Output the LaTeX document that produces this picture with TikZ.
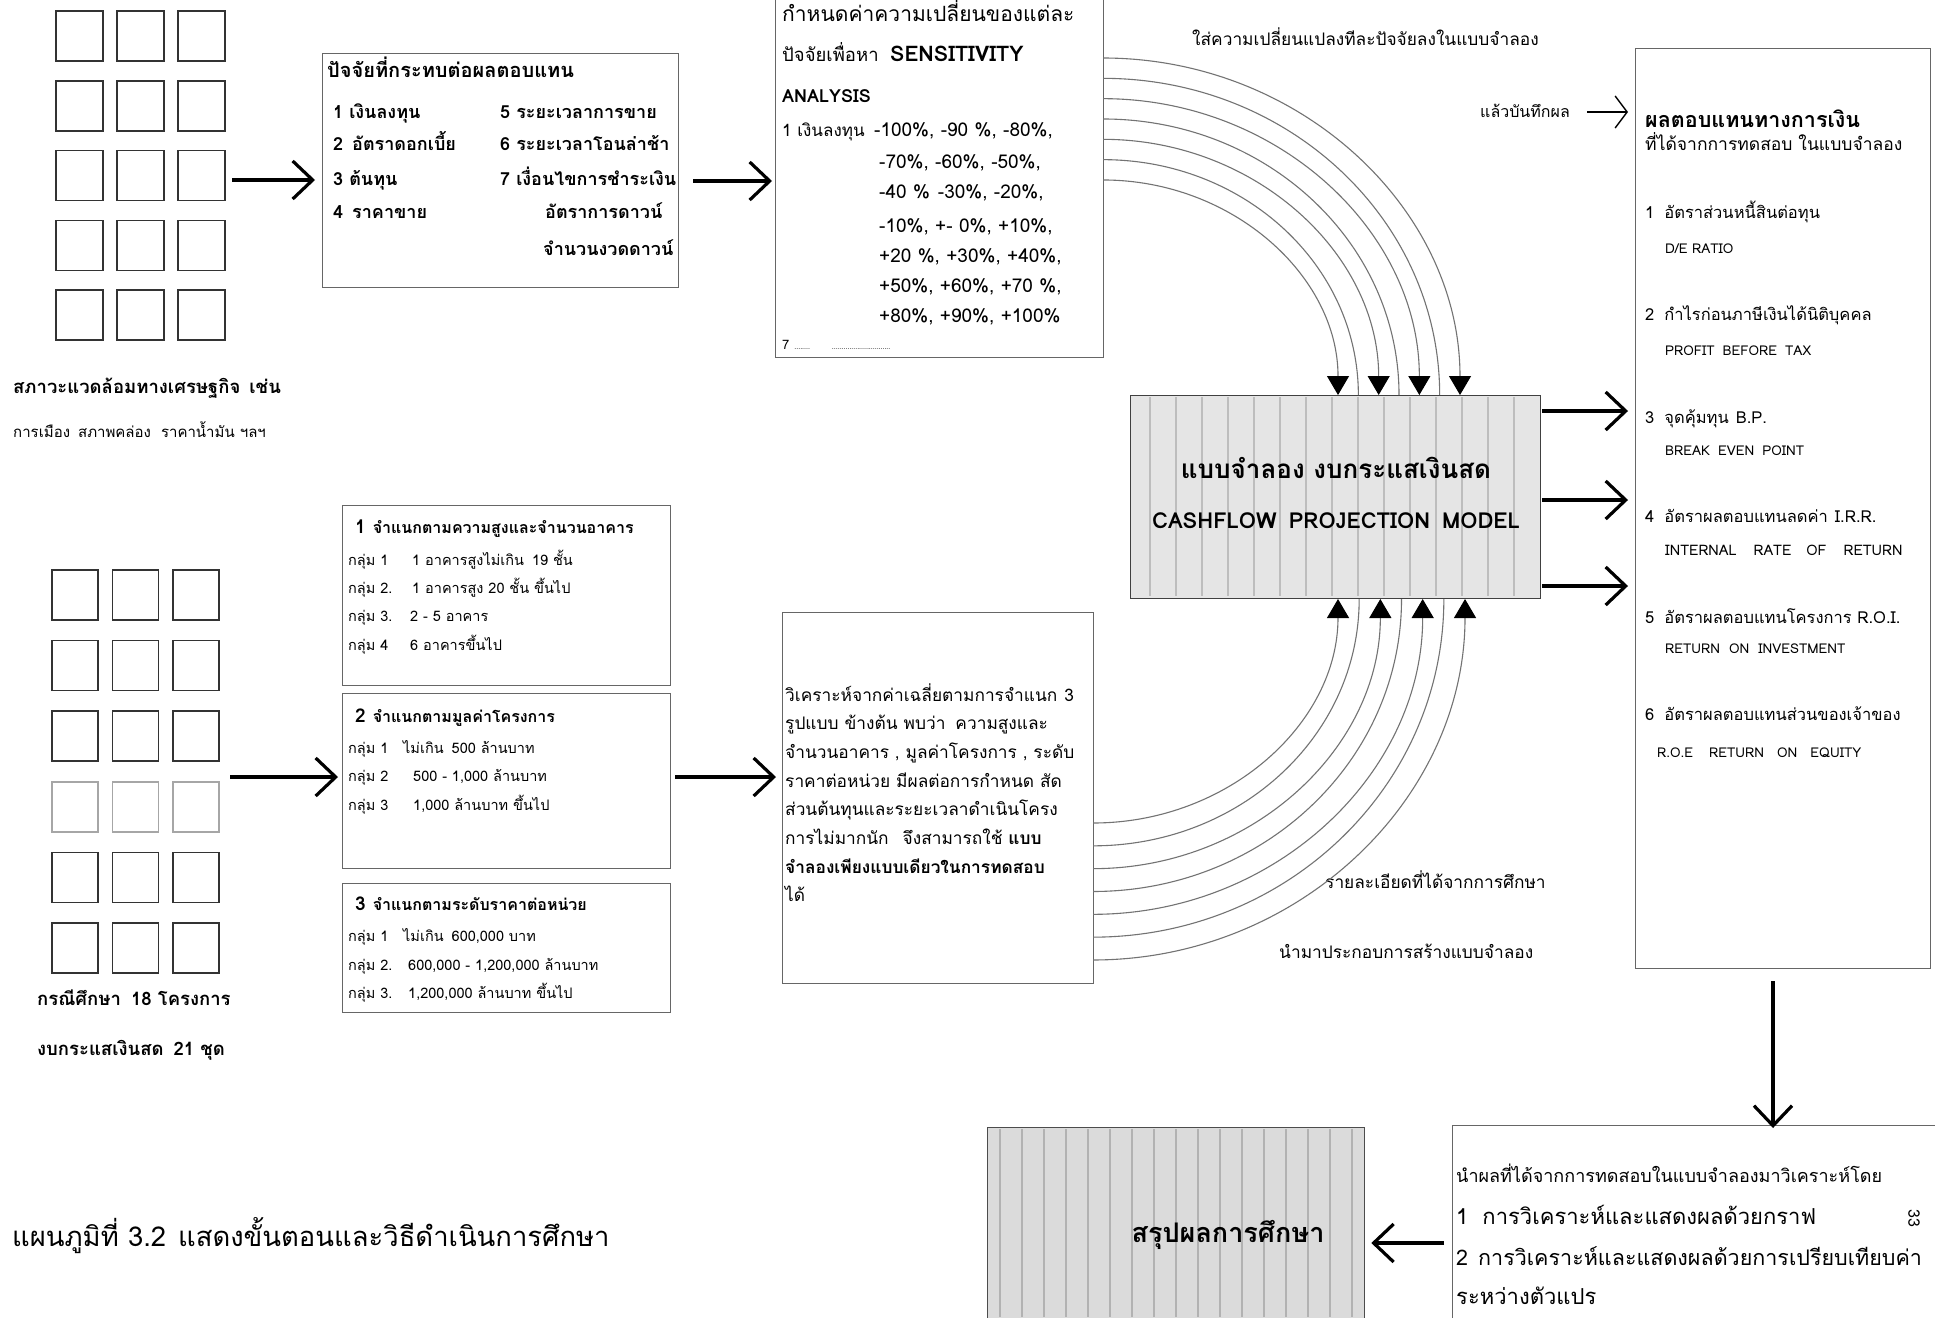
\documentclass[tikz,border=0pt]{standalone}
\usepackage{fontspec}
\setmainfont[Script=Thai]{Loma}
\usetikzlibrary{arrows.meta,calc}
\newcommand\fsz[1]{\fontsize{#1}{#1}\selectfont}
\begin{document}
\begin{tikzpicture}[x=1pt,y=-1pt,
  frame/.style={draw=black!60, line width=1.3pt, inner sep=0pt, anchor=north west},
  sq/.style={draw=black!80, line width=1.5pt, inner sep=0pt, minimum width=47pt, minimum height=50pt},
  t/.style={anchor=base west, inner sep=0pt},
  tc/.style={anchor=base, inner sep=0pt},
  bigarr/.style={line width=3.6pt, -{Straight Barb[length=20pt,width=38pt,line width=3.2pt]}},
  thinarr/.style={line width=1.4pt, -{Straight Barb[length=12pt,width=32pt,line width=1.4pt]}},
  arcline/.style={draw=black!55, line width=1.1pt},
  arcarr/.style={arcline, -{Triangle[length=19pt,width=22pt,color=black]}}
]
\useasboundingbox (0,0) rectangle (1935,1317);
\fill[white] (0,0) rectangle (1935,1317);

% ---------- grids ----------
\foreach \r in {0,...,4}\foreach \c in {0,...,2}
  \node[sq] (qa\r\c) at ({79.5+61*\c},{36+69.75*\r}) {};
\foreach \r in {0,...,5}\foreach \c in {0,...,2}{
  \ifnum\r=3 \def\sqc{black!35}\else\def\sqc{black!80}\fi
  \node[sq, minimum width=46pt, draw=\sqc] (qb\r\c) at ({75+60.5*\c},{595+70.6*\r}) {};}

\node[t] (envA) at (13,393) {\fsz{18.5}\bfseries สภาวะแวดล้อมทางเศรษฐกิจ\hspace{9pt}เช่น};
\node[t] (envB) at (13,437) {\fsz{15}การเมือง\hspace{8pt}สภาพคล่อง\hspace{10pt}ราคาน้ำมัน ฯลฯ};
\node[t] (caseA) at (37,1005) {\fsz{18.5}\bfseries กรณีศึกษา\hspace{10pt}18 โครงการ};
\node[t] (caseB) at (37,1055) {\fsz{18.5}\bfseries งบกระแสเงินสด\hspace{10pt}21 ชุด};

% ---------- boxes ----------
\node[frame, minimum width=356pt, minimum height=234pt] (fac) at (322,53) {};
\node[frame, minimum width=328pt, minimum height=360pt] (sens) at (775,-3) {};
\node[frame, minimum width=295pt, minimum height=920pt] (res) at (1635,48) {};
\node[frame, draw=black!75, fill=black!10, minimum width=410pt, minimum height=203pt] (model) at (1130,395) {};
\foreach \x in {1150,1176,...,1530} \draw[black!26, line width=1.6pt] (\x,397) -- (\x,596);
\node[frame, minimum width=328pt, minimum height=180pt] (grpA) at (342,505) {};
\node[frame, minimum width=328pt, minimum height=175pt] (grpB) at (342,693) {};
\node[frame, minimum width=328pt, minimum height=129pt] (grpC) at (342,883) {};
\node[frame, minimum width=311pt, minimum height=371pt] (mid) at (782,612) {};
\node[frame, draw=black!70, fill=black!14, minimum width=377pt, minimum height=200pt] (summ) at (987,1127) {};
\foreach \x in {1000,1022,...,1360} \draw[black!30, line width=1.4pt] (\x,1129) -- (\x,1317);
\node[frame, minimum width=490pt, minimum height=200pt] (anal) at (1452,1125) {};

% ---------- factor box text ----------
\node[t] (f0) at (327,77) {\fsz{20}\bfseries ปัจจัยที่กระทบต่อผลตอบแทน};
\begin{scope}[every node/.style={t}, font=\fsz{18}\bfseries]
\node (f1) at (333,118) {1 เงินลงทุน};
\node (f2) at (333,150) {2\hspace{9pt}อัตราดอกเบี้ย};
\node (f3) at (333,185) {3 ต้นทุน};
\node (f4) at (333,218) {4\hspace{9pt}ราคาขาย};
\node (f5) at (500,118) {5 ระยะเวลาการขาย};
\node (f6) at (500,150) {6 ระยะเวลาโอนล่าช้า};
\node (f7) at (500,185) {7 เงื่อนไขการชำระเงิน};
\node (f8) at (545,218) {อัตราการดาวน์};
\node (f9) at (543,255) {จำนวนงวดดาวน์};
\end{scope}

% ---------- sensitivity box text ----------
\node[t] (s0) at (782,21) {\fsz{21}กำหนดค่าความเปลี่ยนของแต่ละ};
\node[t] (s1) at (782,61) {\fsz{18.5}ปัจจัยเพื่อหา};
\node[t] (s2) at (890,61) {\fsz{21.5}\bfseries SENSITIVITY};
\node[t] (s3) at (782,102) {\fsz{18}\bfseries ANALYSIS};
\node[t] (s4) at (782,136) {\fsz{17}1 เงินลงทุน};
\begin{scope}[every node/.style={t}, font=\fsz{19}]
\node (p1) at (874,136) {-100\%, -90 \%, -80\%,};
\node (p2) at (879,168) {-70\%, -60\%, -50\%,};
\node (p3) at (879,198) {-40 \%\hspace{8pt}-30\%, -20\%,};
\node (p4) at (879,232) {-10\%, +- 0\%, +10\%,};
\node (p5) at (879,262) {+20 \%, +30\%, +40\%,};
\node (p6) at (879,292) {+50\%, +60\%, +70 \%,};
\node (p7) at (879,322) {+80\%, +90\%, +100\%};
\end{scope}
\node[t] (s5) at (782,349) {\fsz{13}7\hspace{5pt}{\fsz{7}........}\hspace{22pt}{\fsz{7}..............................}};

% ---------- result box text ----------
\node[t] (r0) at (1645,127) {\fsz{21.5}\bfseries ผลตอบแทนทางการเงิน};
\node[t] (r1) at (1645,150) {\fsz{17.5}ที่ได้จากการทดสอบ ในแบบจำลอง};
\begin{scope}[every node/.style={t}, font=\fsz{16.5}]
\node (r2) at (1645,218) {1\hspace{10pt}อัตราส่วนหนี้สินต่อทุน};
\node (r4) at (1645,320) {2\hspace{10pt}กำไรก่อนภาษีเงินได้นิติบุคคล};
\node (r6) at (1645,423) {3\hspace{10pt}จุดคุ้มทุน\hspace{7pt}B.P.};
\node (r8) at (1645,522) {4\hspace{10pt}อัตราผลตอบแทนลดค่า\hspace{7pt}I.R.R.};
\node (r10) at (1645,623) {5\hspace{10pt}อัตราผลตอบแทนโครงการ R.O.I.};
\node (r12) at (1645,720) {6\hspace{10pt}อัตราผลตอบแทนส่วนของเจ้าของ};
\end{scope}
\begin{scope}[every node/.style={t}, font=\fsz{13.5}]
\node (r3) at (1665,253) {D/E RATIO};
\node (r5) at (1665,355) {PROFIT\hspace{8pt}BEFORE\hspace{8pt}TAX};
\node (r7) at (1665,455) {BREAK\hspace{8pt}EVEN\hspace{8pt}POINT};
\node (r9) at (1665,555) {\fsz{14.5}INTERNAL\hspace{17pt}RATE\hspace{15pt}OF\hspace{17pt}RETURN};
\node (r11) at (1665,653) {RETURN\hspace{9pt}ON\hspace{9pt}INVESTMENT};
\node (r13) at (1657,757) {R.O.E\hspace{16pt}RETURN\hspace{13pt}ON\hspace{13pt}EQUITY};
\end{scope}

% ---------- model text ----------
\node[tc] (m1) at (1336,478) {\fsz{26}\bfseries แบบจำลอง งบกระแสเงินสด};
\node[tc] (m2) at (1336,528) {\fsz{22}\bfseries CASHFLOW\hspace{12pt}PROJECTION\hspace{12pt}MODEL};

% ---------- group boxes ----------
\node[t] (gA0) at (355,533) {{\fsz{19}\bfseries 1}\hspace{7pt}{\fsz{16}\bfseries จำแนกตามความสูงและจำนวนอาคาร}};
\node[t] (gB0) at (355,722) {{\fsz{19}\bfseries 2}\hspace{7pt}{\fsz{16}\bfseries จำแนกตามมูลค่าโครงการ}};
\node[t] (gC0) at (355,910) {{\fsz{19}\bfseries 3}\hspace{7pt}{\fsz{16}\bfseries จำแนกตามระดับราคาต่อหน่วย}};
\begin{scope}[every node/.style={t}, font=\fsz{14.5}]
\node (gA1) at (348,565) {กลุ่ม 1};  \node (gA1b) at (412,565) {1 อาคารสูงไม่เกิน\hspace{8pt}19 ชั้น};
\node (gA2) at (348,593) {กลุ่ม 2.}; \node (gA2b) at (412,593) {1 อาคารสูง 20 ชั้น ขึ้นไป};
\node (gA3) at (348,621) {กลุ่ม 3.}; \node (gA3b) at (410,621) {2 - 5 อาคาร};
\node (gA4) at (348,650) {กลุ่ม 4};  \node (gA4b) at (410,650) {6 อาคารขึ้นไป};
\node (gB1) at (348,753) {กลุ่ม 1};  \node (gB1b) at (403,753) {ไม่เกิน\hspace{8pt}500 ล้านบาท};
\node (gB2) at (348,781) {กลุ่ม 2};  \node (gB2b) at (413,781) {500 - 1,000 ล้านบาท};
\node (gB3) at (348,810) {กลุ่ม 3};  \node (gB3b) at (413,810) {1,000 ล้านบาท ขึ้นไป};
\node (gC1) at (348,941) {กลุ่ม 1};  \node (gC1b) at (403,941) {ไม่เกิน\hspace{8pt}600,000 บาท};
\node (gC2) at (348,970) {กลุ่ม 2.}; \node (gC2b) at (408,970) {600,000 - 1,200,000 ล้านบาท};
\node (gC3) at (348,998) {กลุ่ม 3.}; \node (gC3b) at (408,998) {1,200,000 ล้านบาท ขึ้นไป};
\end{scope}

% ---------- middle text ----------
\begin{scope}[every node/.style={t}, font=\fsz{17.3}]
\node (x1) at (785,701) {วิเคราะห์จากค่าเฉลี่ยตามการจำแนก\hspace{7pt}3};
\node (x2) at (785,729.7) {รูปแบบ\hspace{6pt}ข้างต้น\hspace{6pt}พบว่า\hspace{10pt}ความสูงและ};
\node (x3) at (785,758.4) {จำนวนอาคาร , มูลค่าโครงการ , ระดับ};
\node (x4) at (785,787.1) {ราคาต่อหน่วย\hspace{6pt}มีผลต่อการกำหนด\hspace{6pt}สัด};
\node (x5) at (785,815.8) {ส่วนต้นทุนและระยะเวลาดำเนินโครง};
\node (x6) at (785,844.5) {การไม่มากนัก\hspace{14pt}จึงสามารถใช้ \textbf{แบบ}};
\node (x7) at (785,873.2) {\bfseries จำลองเพียงแบบเดียวในการทดสอบ};
\node (x8) at (785,901.9) {ได้};
\end{scope}

% ---------- free texts ----------
\node[t] (top1) at (1192,45) {\fsz{17.3}ใส่ความเปลี่ยนแปลงทีละปัจจัยลงในแบบจำลอง};
\node[t] (rec) at (1480,117) {\fsz{16}แล้วบันทึกผล};
\node[t] (bot1) at (1325,888) {\fsz{17.3}รายละเอียดที่ได้จากการศึกษา};
\node[t] (bot2) at (1279,958) {\fsz{17.3}นำมาประกอบการสร้างแบบจำลอง};

\node[t] (cap) at (12,1246) {\fsz{27.4}แผนภูมิที่ 3.2\hspace{12pt}แสดงขั้นตอนและวิธีดำเนินการศึกษา};
\node[tc] (sumt) at (1228,1242) {\fsz{27}\bfseries สรุปผลการศึกษา};
\node[t] (an0) at (1456,1182) {\fsz{18}นำผลที่ได้จากการทดสอบในแบบจำลองมาวิเคราะห์โดย};
\node[t] (an1) at (1456,1224) {\fsz{22}1\hspace{14pt}การวิเคราะห์และแสดงผลด้วยกราฟ};
\node[t] (an2) at (1456,1265) {\fsz{21.5}2\hspace{10pt}การวิเคราะห์และแสดงผลด้วยการเปรียบเทียบค่า};
\node[t] (an3) at (1456,1304) {\fsz{22}ระหว่างตัวแปร};
\node[rotate=-90, inner sep=0pt] (pg) at (1914,1218) {\fsz{16}33};

% ---------- arcs ----------
\foreach \i in {0,...,6}{
  \pgfmathsetmacro\ys{58+20.33*\i}
  \pgfmathsetmacro\xe{1460-20.33*\i}
  \pgfmathsetmacro\rx{\xe-1103}
  \pgfmathsetmacro\ry{395-\ys}
  \coordinate (ts\i) at (1103,\ys);
  \coordinate (te\i) at (\xe,395);
  \ifodd\i\def\st{arcline}\else\def\st{arcarr}\fi
  \draw[\st] (ts\i) .. controls +(0.5523*\rx,0) and +(0,-0.5523*\ry) .. (te\i);
}
\foreach \i in {0,...,6}{
  \pgfmathsetmacro\ys{823+22.83*\i}
  \pgfmathsetmacro\xe{1338+21.17*\i}
  \pgfmathsetmacro\rx{\xe-1093}
  \pgfmathsetmacro\ry{\ys-598}
  \coordinate (bs\i) at (1093,\ys);
  \coordinate (be\i) at (\xe,599);
  \ifodd\i\def\st{arcline}\else\def\st{arcarr}\fi
  \draw[\st] (bs\i) .. controls +(0.5523*\rx,0) and +(0,0.5523*\ry) .. (be\i);
}

% ---------- arrows ----------
\coordinate (a1) at (232,180);
\draw[bigarr] (a1) -- ([xshift=-7pt]a1 -| fac.west);
\coordinate (a2) at (693,181);
\draw[bigarr] (a2) -- ([xshift=-3pt]a2 -| sens.west);
\coordinate (a3) at (230,777);
\draw[bigarr] (a3) -- ([xshift=-4pt]a3 -| grpB.west);
\coordinate (a4) at (675,777);
\draw[bigarr] (a4) -- ([xshift=-6pt]a4 -| mid.west);
\foreach \yy [count=\k] in {411,500,586}{
  \coordinate (o\k) at (1542,\yy);
  \draw[bigarr] (o\k) -- ([xshift=-7pt]o\k -| res.west);
}
\coordinate (a8) at (1587,112);
\draw[thinarr] (a8) -- ([xshift=-7pt]a8 -| res.west);
\coordinate (a9) at (1773,981);
\draw[bigarr] (a9) -- ([yshift=-3pt]a9 |- anal.north);
\coordinate (a10) at (1444,1243);
\draw[bigarr] (a10) -- ([xshift=6pt]a10 -| summ.east);
\end{tikzpicture}
\end{document}
